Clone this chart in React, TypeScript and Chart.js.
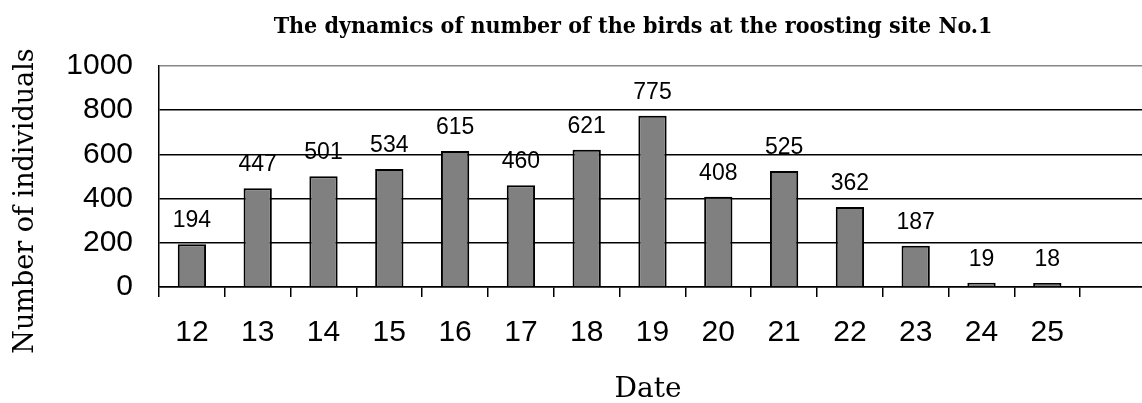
import React, { useEffect, useRef } from "react";
import { Chart, registerables } from "chart.js";

Chart.register(...registerables);

const categories: string[] = ["12", "13", "14", "15", "16", "17", "18", "19", "20", "21", "22", "23", "24", "25", ""];
const birdCounts: (number | null)[] = [194, 447, 501, 534, 615, 460, 621, 775, 408, 525, 362, 187, 19, 18, null];
const yTicks: number[] = [0, 200, 400, 600, 800, 1000];

const chartTitle = "The dynamics of number of the birds at the roosting site No.1";
const yTitle = "Number of individuals";
const xTitle = "Date";

const SERIF = '"DejaVu Serif", serif';
const SERIF_COND = '"DejaVu Serif Condensed", "DejaVu Serif", serif';
const SANS = '"Liberation Sans", Arial, sans-serif';

const W = 1146;
const H = 403;

const textPlugin = {
  id: "textPlugin",
  afterDatasetsDraw(chart: any) {
    const ctx = chart.ctx as CanvasRenderingContext2D;
    const meta = chart.getDatasetMeta(0);
    ctx.save();
    ctx.fillStyle = "#000";
    ctx.font = `23px ${SANS}`;
    ctx.textAlign = "center";
    ctx.textBaseline = "alphabetic";
    meta.data.forEach((bar: any, i: number) => {
      const v = birdCounts[i];
      if (v === null || v === undefined) return;
      ctx.fillText(String(v), bar.x, bar.y - 17);
    });
    ctx.restore();
  },
  afterDraw(chart: any) {
    const ctx = chart.ctx as CanvasRenderingContext2D;
    ctx.save();
    ctx.fillStyle = "#000";
    ctx.textAlign = "center";
    ctx.textBaseline = "alphabetic";
    ctx.font = `bold 23px ${SERIF_COND}`;
    ctx.fillText(chartTitle, 633, 33, 728);
    ctx.font = `28px ${SERIF}`;
    ctx.fillText(xTitle, 648, 397);
    ctx.font = `27px ${SERIF}`;
    ctx.translate(33, 201);
    ctx.rotate(-Math.PI / 2);
    ctx.fillText(yTitle, 0, 0);
    ctx.restore();
  },
};

export default function App() {
  const ref = useRef<HTMLCanvasElement>(null);
  useEffect(() => {
    if (!ref.current) return;
    const chart = new Chart(ref.current, {
      type: "bar",
      data: {
        labels: categories,
        datasets: [
          {
            data: birdCounts,
            backgroundColor: "#808080",
            borderColor: "#000",
            borderWidth: 2,
            categoryPercentage: 1,
            barPercentage: 0.43,
          },
        ],
      },
      options: {
        responsive: false,
        animation: false,
        layout: { padding: { top: 66, left: 0, right: 0, bottom: 0 } },
        plugins: {
          legend: { display: false },
          tooltip: { enabled: false },
          title: { display: false },
        },
        scales: {
          x: {
            offset: true,
            grid: {
              offset: true,
              drawOnChartArea: false,
              drawTicks: true,
              tickLength: 10,
              color: "#000",
              lineWidth: 1.5,
            },
            border: { color: "#000", width: 1.5 },
            ticks: {
              color: "#000",
              font: { family: SANS, size: 30 },
              padding: 18,
              maxRotation: 0,
              autoSkip: false,
            },
            afterFit(scale: any) {
              scale.height = H - 287;
            },
          },
          y: {
            min: 0,
            max: 1000,
            afterBuildTicks(scale: any) {
              scale.ticks = yTicks.map((v) => ({ value: v }));
            },
            grid: {
              drawTicks: false,
              color: (c: any) => (c.tick && c.tick.value === 1000 ? "#888" : "#000"),
              lineWidth: 1.5,
            },
            border: { color: "#000", width: 1.5 },
            ticks: {
              color: "#000",
              font: { family: SANS, size: 30 },
              padding: 26,
              callback: (v: any) => String(v),
            },
            afterFit(scale: any) {
              scale.width = 159;
            },
          },
        },
      },
      plugins: [textPlugin],
    });
    return () => chart.destroy();
  }, []);
  return (
    <div style={{ position: "fixed", left: 0, top: 0, width: 1142, height: H, overflow: "hidden", background: "#fff" }}>
      <canvas ref={ref} width={W} height={H} style={{ display: "block" }} />
    </div>
  );
}
